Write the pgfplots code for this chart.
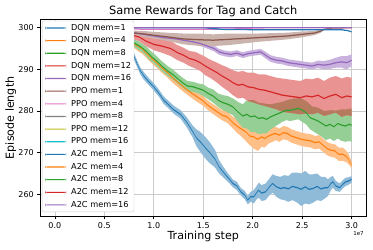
\documentclass[border=0pt]{standalone}
\usepackage{fontspec}
\setmainfont{DejaVu Sans}
\usepackage{pgfplots}
\pgfplotsset{compat=1.18}
\usepackage{pgfplotstable}
\usepgfplotslibrary{fillbetween}
\definecolor{tabblue}{RGB}{31,119,180}
\definecolor{taborange}{RGB}{255,127,14}
\definecolor{tabgreen}{RGB}{44,160,44}
\definecolor{tabred}{RGB}{214,39,40}
\definecolor{tabpurple}{RGB}{148,103,189}
\definecolor{tabbrown}{RGB}{140,86,75}
\definecolor{tabpink}{RGB}{227,119,194}
\definecolor{tabgray}{RGB}{127,127,127}
\definecolor{tabolive}{RGB}{188,189,34}
\definecolor{tabcyan}{RGB}{23,190,207}
\definecolor{legframe}{RGB}{204,204,204}
\definecolor{mixrg}{RGB}{182,123,95}

\pgfplotstableread{
x y lo hi
0.00 300 300 300
0.30 300 299.9 300
0.45 299.8 299.6 300
0.55 299.4 299.0 299.8
0.62 298.8 298.3 299.3
0.68 297.8 297.2 298.4
0.73 296.5 295.8 297.2
0.78 294.3 293.5 295.1
0.82 292.0 291.2 292.8
0.86 289.8 289.0 290.6
0.90 288.4 287.5 289.3
0.95 287.0 286.2 287.9
1.00 285.8 284.9 286.7
1.05 284.3 283.5 285.2
1.10 282.6 281.7 283.5
1.15 281.5 280.6 282.4
1.20 280.3 279.4 281.3
1.27 279.2 278.2 280.2
1.33 277.4 276.2 278.6
1.39 275.2 273.8 276.6
1.43 273.6 271.6 275.6
1.47 272.6 270.2 275.0
1.52 271.2 268.6 273.8
1.57 269.9 267.4 272.4
1.62 268.4 266.4 270.6
1.66 266.6 265.0 268.2
1.70 265.4 264.1 266.7
1.75 264.0 263.0 265.0
1.80 262.6 261.7 263.5
1.84 262.0 261.0 263.0
1.88 260.6 259.7 261.5
1.92 259.8 258.8 260.8
1.95 258.6 257.6 259.6
1.98 259.4 258.2 260.6
2.01 259.4 257.8 261.0
2.04 260.4 258.8 262.0
2.06 261.0 259.2 262.8
2.09 260.3 258.4 262.2
2.13 260.6 258.6 262.6
2.17 261.8 259.8 263.8
2.20 262.6 260.4 264.8
2.24 261.8 259.4 264.4
2.28 261.4 258.8 264.2
2.32 261.6 258.6 264.6
2.36 261.3 258.2 264.4
2.40 261.9 258.6 265.2
2.45 261.6 258.0 265.2
2.49 261.2 257.2 265.0
2.53 261.8 257.8 265.6
2.57 261.2 257.6 264.8
2.61 261.4 258.0 264.8
2.65 261.9 258.6 265.0
2.69 261.3 258.4 264.2
2.73 261.6 259.0 264.2
2.76 261.6 259.6 263.6
2.79 262.6 261.0 264.2
2.81 263.0 261.6 264.4
2.84 262.0 260.8 263.2
2.88 261.6 260.6 262.6
2.91 262.4 261.4 263.4
2.94 263.0 262.0 264.0
2.97 263.2 262.3 264.1
3.00 263.6 262.8 264.4
}\tdqnA

\pgfplotstableread{
x y lo hi
0.00 300 300 300
0.30 299.9 299.8 300
0.45 299.5 299.2 299.8
0.55 298.9 298.5 299.3
0.65 298.0 297.5 298.5
0.72 297.2 296.5 297.9
0.78 296.4 295.5 297.3
0.84 295.6 294.4 296.8
0.88 295.0 293.8 296.2
0.93 293.8 292.6 295.0
0.98 292.6 291.4 293.8
1.03 291.6 290.4 292.8
1.08 290.4 289.2 291.6
1.14 289.2 288.0 290.4
1.19 288.0 286.8 289.2
1.24 287.0 285.8 288.2
1.29 286.0 284.8 287.2
1.34 285.0 283.9 286.1
1.40 284.0 282.8 285.2
1.45 283.2 282.0 284.4
1.49 282.6 281.4 283.8
1.54 281.5 280.4 282.6
1.59 280.6 279.4 281.8
1.64 279.8 278.6 281.0
1.69 279.0 277.8 280.2
1.74 278.6 277.2 280.0
1.79 277.4 276.0 278.8
1.84 276.4 274.8 278.0
1.89 275.6 273.8 277.4
1.93 275.0 272.8 277.2
1.97 274.0 271.8 276.2
2.01 273.8 271.0 276.4
2.05 273.2 270.4 275.8
2.09 273.8 271.4 276.2
2.12 273.4 271.2 275.6
2.16 274.0 272.2 275.8
2.20 274.4 272.6 276.2
2.23 274.6 273.0 276.2
2.27 274.2 272.6 275.8
2.31 274.8 273.2 276.4
2.35 274.6 273.0 276.2
2.39 274.0 272.4 275.6
2.44 273.6 272.0 275.2
2.49 273.2 271.6 274.8
2.54 273.0 271.4 274.6
2.59 272.8 271.2 274.4
2.63 272.4 270.8 274.0
2.67 272.6 271.0 274.2
2.71 271.8 270.2 273.4
2.75 271.0 269.4 272.6
2.79 270.6 269.0 272.2
2.83 270.4 268.8 272.0
2.87 269.6 268.0 271.2
2.91 269.6 268.0 271.2
2.94 269.2 267.8 270.6
2.97 268.4 267.2 269.6
3.00 267.0 266.2 267.8
}\tdqnB

\pgfplotstableread{
x y lo hi
0.00 300 300 300
0.30 299.9 299.8 300
0.45 299.6 299.3 299.9
0.55 299.0 298.6 299.4
0.65 298.2 297.7 298.7
0.72 297.4 296.8 298.0
0.78 296.6 295.8 297.4
0.84 295.8 294.8 296.8
0.88 295.2 294.2 296.2
0.93 294.2 293.0 295.4
0.98 293.0 291.8 294.2
1.03 292.0 290.8 293.2
1.08 290.8 289.6 292.0
1.14 289.6 288.4 290.8
1.19 288.8 287.6 290.0
1.24 287.8 286.6 289.0
1.29 286.8 285.6 288.0
1.34 286.0 284.8 287.2
1.40 285.8 284.6 287.0
1.45 285.4 284.2 286.6
1.50 285.0 283.6 286.4
1.55 284.2 282.8 285.6
1.60 283.6 282.0 285.2
1.65 282.6 281.0 284.2
1.70 282.0 280.2 283.8
1.75 281.6 279.6 283.6
1.80 281.0 279.0 283.0
1.85 279.8 277.4 282.2
1.90 278.8 276.0 281.6
1.94 279.2 275.8 282.6
1.98 278.6 275.0 282.2
2.02 278.8 275.0 282.6
2.06 278.2 274.4 282.0
2.10 278.4 274.6 282.2
2.14 278.0 274.6 281.4
2.18 278.6 275.6 281.6
2.22 279.0 276.2 281.8
2.26 279.4 276.8 282.0
2.30 279.8 277.4 282.2
2.34 280.2 277.8 282.6
2.38 280.2 277.6 282.8
2.42 280.4 277.8 283.0
2.46 280.6 278.0 283.2
2.50 280.2 277.4 283.0
2.54 279.6 276.8 282.4
2.58 278.4 275.6 281.2
2.62 278.0 275.0 281.0
2.66 277.6 274.4 280.8
2.70 277.0 273.8 280.2
2.74 276.4 273.0 279.8
2.78 276.8 273.4 280.2
2.82 276.2 272.8 279.6
2.86 277.0 273.4 280.6
2.90 276.6 272.8 280.4
2.94 276.4 272.6 280.2
2.97 276.8 272.8 280.8
3.00 276.6 272.6 280.6
}\tdqnC

\pgfplotstableread{
x y lo hi
0.00 300 300 300
0.30 299.9 299.8 300
0.45 299.6 299.3 299.9
0.55 299.2 298.8 299.6
0.65 298.8 298.2 299.4
0.75 298.4 297.6 299.2
0.85 297.8 296.8 298.8
0.92 296.8 295.6 298.0
1.00 296.0 294.6 297.4
1.08 295.6 294.0 297.2
1.17 295.0 293.2 296.8
1.24 294.0 292.2 295.8
1.30 293.4 291.6 295.2
1.36 292.6 290.8 294.4
1.42 292.2 290.2 294.2
1.47 291.6 289.6 293.6
1.52 290.8 288.6 293.0
1.58 290.0 287.8 292.2
1.64 289.2 286.8 291.6
1.69 288.4 285.8 291.0
1.75 287.6 284.8 290.4
1.80 286.8 283.8 289.8
1.85 286.2 283.0 289.4
1.90 286.4 283.2 289.6
1.95 285.8 282.4 289.2
2.01 285.6 282.0 289.2
2.06 285.2 281.6 288.8
2.12 285.0 281.2 288.8
2.18 284.6 280.8 288.4
2.24 284.2 280.4 288.0
2.30 283.8 279.8 287.8
2.36 283.6 279.6 287.6
2.42 283.4 279.4 287.4
2.48 283.2 279.2 287.2
2.54 283.6 279.4 287.8
2.60 283.4 279.2 287.6
2.66 283.8 279.6 288.0
2.72 283.0 278.8 287.2
2.78 283.6 279.2 288.0
2.84 284.0 279.6 288.4
2.90 283.2 278.6 287.8
2.95 283.6 279.0 288.2
3.00 283.4 278.8 288.0
}\tdqnD

\pgfplotstableread{
x lo hi
1.95 282.4 282.6
2.01 282.0 282.6
2.06 281.6 282.0
2.12 281.2 281.8
2.18 280.8 281.6
2.24 280.4 281.9
2.30 279.8 282.2
2.36 279.6 282.7
2.42 279.4 283.0
2.48 279.2 283.1
2.54 279.4 282.4
2.60 279.2 281.1
2.66 279.6 280.8
2.72 278.8 280.0
2.78 279.2 280.2
2.84 279.6 280.1
2.90 278.6 280.4
2.95 279.0 280.4
3.00 278.8 280.6
}\tmix

\pgfplotstableread{
x y lo hi
0.00 300 300 300
0.40 299.8 299.6 300
0.60 299.4 299.1 299.7
0.80 298.8 298.4 299.2
0.90 298.4 298.0 298.8
1.00 298.0 297.6 298.4
1.10 297.6 297.2 298.0
1.20 297.4 296.9 297.9
1.30 297.0 296.5 297.5
1.40 296.6 296.0 297.2
1.47 296.2 295.6 296.8
1.54 295.6 295.0 296.2
1.61 295.0 294.3 295.7
1.66 294.2 293.5 294.9
1.72 293.8 293.1 294.5
1.78 293.6 292.9 294.3
1.84 293.9 293.2 294.6
1.90 293.4 292.7 294.1
1.96 293.8 293.1 294.5
2.02 294.0 293.3 294.7
2.08 294.2 293.5 294.9
2.13 293.4 292.6 294.2
2.18 292.6 291.8 293.4
2.24 292.2 291.4 293.0
2.30 292.0 291.2 292.8
2.36 291.6 290.8 292.4
2.42 291.4 290.6 292.2
2.48 291.2 290.4 292.0
2.54 291.0 290.2 291.8
2.60 290.8 290.0 291.6
2.66 291.2 290.3 292.1
2.72 291.0 290.0 292.0
2.78 291.2 290.1 292.3
2.84 291.6 290.4 292.8
2.90 291.8 290.4 293.2
2.95 291.6 290.0 293.2
3.00 292.2 290.8 293.6
}\tdqnE

\pgfplotstableread{
x y lo hi
0.00 300 300 300
0.40 299.7 299.5 299.9
0.60 299.2 298.8 299.6
0.80 298.7 298.1 299.3
0.90 298.5 297.8 299.2
1.00 298.2 297.4 299.0
1.14 297.8 296.8 298.8
1.30 297.3 296.0 298.6
1.47 297.1 295.6 298.6
1.60 297.0 295.6 298.4
1.75 297.2 295.8 298.6
1.90 297.4 296.2 298.6
2.05 297.6 296.6 298.6
2.20 297.8 296.9 298.7
2.35 298.0 297.2 298.8
2.50 298.4 297.7 299.1
2.62 298.7 298.2 299.2
2.68 299.1 298.7 299.5
2.72 299.6 299.4 299.8
2.80 299.9 299.8 300
3.00 300 300 300
}\tppoA

\pgfplotstableread{
x y
0.00 300
0.60 300
0.75 299.8
0.90 299.6
1.20 299.6
1.60 299.6
1.80 299.7
2.00 299.9
2.20 300
3.00 300
}\tppoB

\pgfplotstableread{
x y
0.00 300
3.00 300
}\tflat

\pgfplotstableread{
x y
0.00 300
1.50 300
1.70 299.6
2.10 299.5
2.50 299.5
2.90 299.5
2.96 299.3
3.00 299.0
}\taA

\newcommand{\bandonly}[3]{%
  \addplot[draw=none, forget plot, name path=h#3] table[x=x,y=hi]{#1};
  \addplot[draw=none, forget plot, name path=l#3] table[x=x,y=lo]{#1};
  \addplot[fill=#2, draw=none, forget plot] fill between[of=h#3 and l#3];
}
% a line drawn as a thin filled ribbon (stroke colours were unreliable)
\newcommand{\ribbon}[3]{%
  \addplot[draw=none, forget plot, name path=p#3] table[x=x, y expr=\thisrow{y}+0.15]{#1};
  \addplot[draw=none, forget plot, name path=q#3] table[x=x, y expr=\thisrow{y}-0.15]{#1};
  \addplot[fill=#2, draw=none, legend image code/.code={\fill[#2] (0pt,-0.55pt) rectangle (21pt,0.55pt);}] fill between[of=p#3 and q#3];
}

\begin{document}
\begin{tikzpicture}
\begin{axis}[
  name=ax,
  scale only axis,
  width=326.5pt, height=197.7pt,
  xmin=-0.15, xmax=3.15, ymin=254.62, ymax=302.09,
  xtick={0,0.5,1,1.5,2,2.5,3},
  ytick={260,270,280,290,300},
  /pgf/number format/assume math mode=true,
  xticklabel style={/pgf/number format/.cd, fixed, fixed zerofill, precision=1},
  ticklabel style={font=\fontsize{8}{9}\selectfont},
  grid=major,
  grid style={line width=0.6pt, draw=black!20},
  tick align=outside,
  tick pos=left,
  major tick length=2.7pt,
  tick style={line width=0.6pt, draw=black},
  axis line style={line width=0.6pt, draw=black},
  legend cell align=left,
  legend style={
    at={(axis description cs:0.006,0.991)}, anchor=north west,
    font=\fontsize{8.2}{9}\selectfont,
    draw=legframe, rounded corners=2pt, fill=white,
    inner xsep=3pt, inner ysep=3pt,
    row sep=4.64pt, column sep=5pt,
    nodes={inner sep=0pt, text height=6.2pt, text depth=1.8pt},
  },
]
\bandonly{\tdqnA}{tabblue!50!white}{a}
\bandonly{\tdqnB}{taborange!50!white}{b}
\bandonly{\tdqnC}{tabgreen!50!white}{c}
\bandonly{\tdqnD}{tabred!50!white}{d}
\bandonly{\tmix}{mixrg}{m}
\bandonly{\tdqnE}{tabpurple!50!white}{e}
\bandonly{\tppoA}{tabbrown!45!white}{f}
\ribbon{\tdqnA}{tabblue}{A}
\addlegendentry{DQN mem=1}
\ribbon{\tdqnB}{taborange}{B}
\addlegendentry{DQN mem=4}
\ribbon{\tdqnC}{tabgreen}{C}
\addlegendentry{DQN mem=8}
\ribbon{\tdqnD}{tabred}{D}
\addlegendentry{DQN mem=12}
\ribbon{\tdqnE}{tabpurple}{E}
\addlegendentry{DQN mem=16}
\ribbon{\tppoA}{tabbrown}{F}
\addlegendentry{PPO mem=1}
\ribbon{\tppoB}{tabpink}{G}
\addlegendentry{PPO mem=4}
\ribbon{\tflat}{tabgray}{H}
\addlegendentry{PPO mem=8}
\ribbon{\tflat}{tabolive}{I}
\addlegendentry{PPO mem=12}
\ribbon{\tflat}{tabcyan}{J}
\addlegendentry{PPO mem=16}
\ribbon{\taA}{tabblue}{K}
\addlegendentry{A2C mem=1}
\ribbon{\tflat}{taborange}{L}
\addlegendentry{A2C mem=4}
\ribbon{\tflat}{tabgreen}{M}
\addlegendentry{A2C mem=8}
\ribbon{\tflat}{tabred}{N}
\addlegendentry{A2C mem=12}
\ribbon{\tflat}{tabpurple}{O}
\addlegendentry{A2C mem=16}
\end{axis}
\pgfresetboundingbox
\path[use as bounding box] ([xshift=-40pt,yshift=-32.3pt]ax.south west) rectangle ([xshift=6.5pt,yshift=19pt]ax.north east);
\node[font=\fontsize{11.4}{13}\selectfont, anchor=base, inner sep=0pt] at ([yshift=4pt]ax.north) {Same Rewards for Tag and Catch};
\node[font=\fontsize{11.1}{13}\selectfont, anchor=base, inner sep=0pt] at ([yshift=-22.8pt]ax.south) {Training step};
\node[font=\fontsize{11.1}{13}\selectfont, rotate=90, anchor=base, inner sep=0pt] at ([xshift=-26pt]ax.west) {Episode length};
\node[font=\fontsize{5.5}{6}\selectfont, anchor=center, inner sep=0pt] at ([xshift=-8pt,yshift=-16.8pt]ax.south east) {1e7};
\end{tikzpicture}
\end{document}
